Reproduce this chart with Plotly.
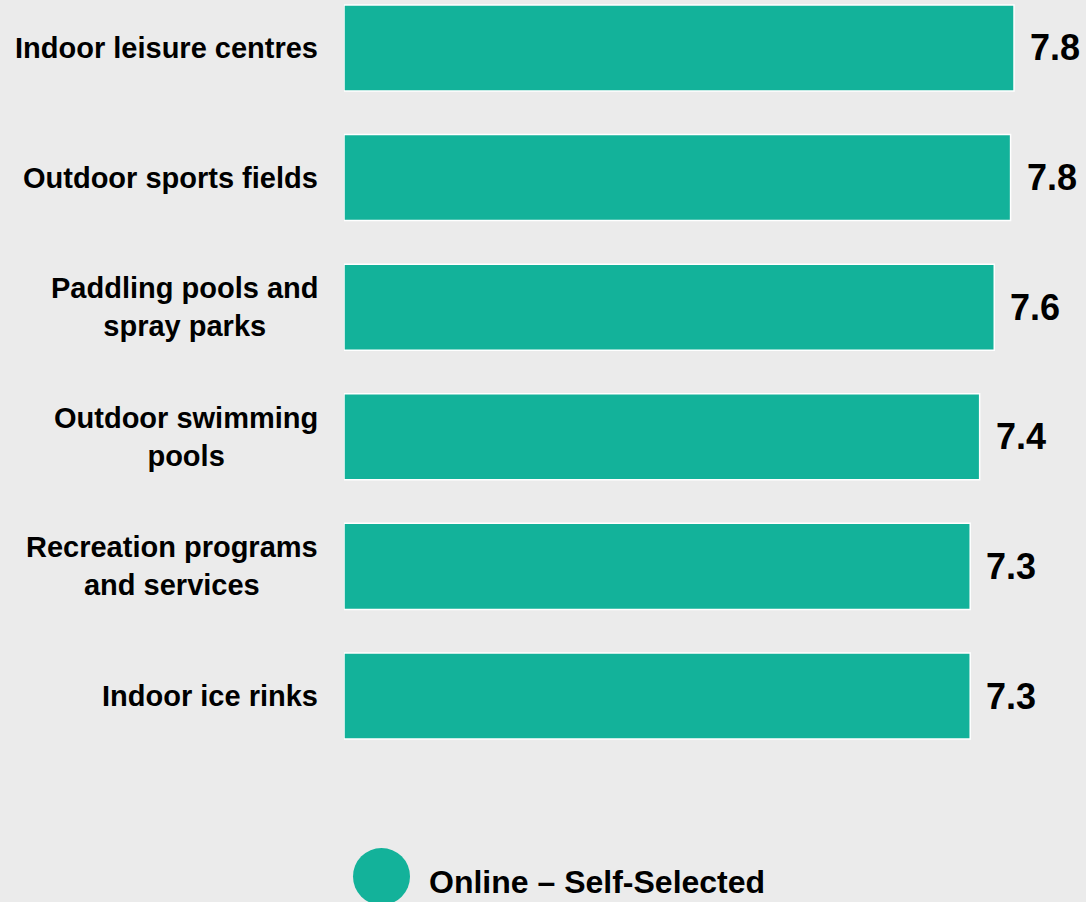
import plotly.graph_objects as go

# Facility categories (top to bottom) and their mean ratings
categories = [
    "Indoor leisure centres",
    "Outdoor sports fields",
    "Paddling pools and<br>spray parks",
    "Outdoor swimming<br>pools",
    "Recreation programs<br>and services",
    "Indoor ice rinks",
]
ratings = [7.80, 7.76, 7.57, 7.40, 7.29, 7.29]
series_name = "Online – Self-Selected"

BG = "#ebebeb"
TEAL = "#13b29a"
FONT = "Liberation Sans, Arial, Helvetica, sans-serif"

fig = go.Figure()
fig.add_trace(
    go.Bar(
        x=ratings,
        y=categories,
        orientation="h",
        width=0.664,
        marker=dict(color=TEAL, line=dict(color="white", width=1.5)),
        name=series_name,
        showlegend=False,
        hoverinfo="x+y",
    )
)

annotations = []
# value labels just past the end of each bar
for cat, val in zip(categories, ratings):
    annotations.append(
        dict(
            x=val, y=cat, xref="x", yref="y",
            text=f"<b>{val:.1f}</b>",
            showarrow=False, xanchor="left", yanchor="middle",
            xshift=14,
            font=dict(family=FONT, size=36, color="black"),
        )
    )

# category labels, right-aligned block with centred lines
for cat in categories:
    annotations.append(
        dict(
            x=0, y=cat, xref="paper", yref="y",
            text=f"<b>{cat}</b>",
            showarrow=False, xanchor="right", yanchor="middle",
            align="center", xshift=-24,
            font=dict(family=FONT, size=29, color="black"),
        )
    )

# legend text
annotations.append(
    dict(
        x=0, y=0, xref="paper", yref="paper",
        text=f"<b>{series_name}</b>",
        showarrow=False, xanchor="left", yanchor="middle",
        xshift=83, yshift=-102,
        font=dict(family=FONT, size=32, color="black"),
    )
)

fig.update_layout(
    width=1086,
    height=902,
    margin=dict(l=344, r=0, t=0, b=122),
    paper_bgcolor=BG,
    plot_bgcolor=BG,
    font=dict(family=FONT),
    showlegend=False,
    xaxis=dict(range=[0, 8.638], showgrid=False, zeroline=False,
               showticklabels=False, ticks=""),
    yaxis=dict(range=[5.648, -0.370], showgrid=False, zeroline=False,
               showticklabels=False, ticks="", type="category"),
    annotations=annotations,
    shapes=[
        dict(
            type="circle", xref="paper", yref="paper",
            xsizemode="pixel", ysizemode="pixel",
            xanchor=0, yanchor=0,
            x0=9, x1=66, y0=-68, y1=-125,
            fillcolor=TEAL, line=dict(width=0),
        )
    ],
)

fig.write_html("out.html")
